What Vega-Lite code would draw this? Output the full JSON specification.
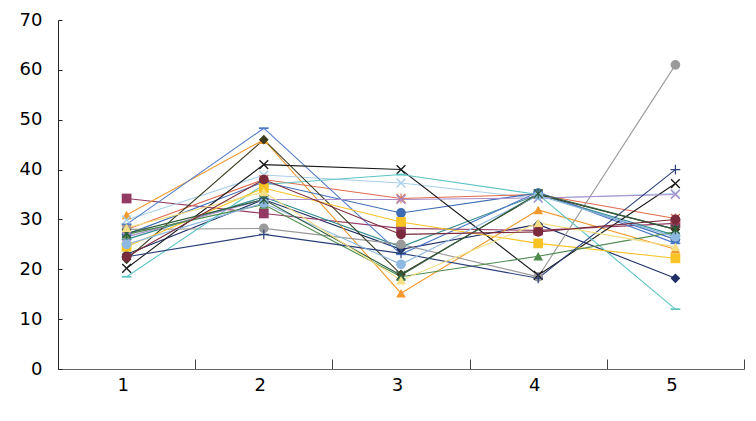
{
  "$schema": "https://vega.github.io/schema/vega-lite/v6.json",
  "autosize": {"type": "none"},
  "padding": {"left": 58, "top": 20, "right": 12, "bottom": 52},
  "width": 686,
  "height": 349,
  "background": "white",
  "config": {"view": {"stroke": null}, "font": "DejaVu Sans"},
  "data": {"values": [
    {"s":"S01","x":"1","v":23},{"s":"S01","x":"2","v":34},{"s":"S01","x":"3","v":24},{"s":"S01","x":"4","v":29},{"s":"S01","x":"5","v":18.2},
    {"s":"S02","x":"1","v":34.2},{"s":"S02","x":"2","v":31.2},{"s":"S02","x":"3","v":28.2},{"s":"S02","x":"4","v":27.8},{"s":"S02","x":"5","v":29.2},
    {"s":"S03","x":"1","v":30.9},{"s":"S03","x":"2","v":46},{"s":"S03","x":"3","v":15.2},{"s":"S03","x":"4","v":31.9},{"s":"S03","x":"5","v":24},
    {"s":"S04","x":"1","v":29.9},{"s":"S04","x":"2","v":38.9},{"s":"S04","x":"3","v":37.3},{"s":"S04","x":"4","v":34.2},{"s":"S04","x":"5","v":35.2},
    {"s":"S05","x":"1","v":28},{"s":"S05","x":"2","v":38},{"s":"S05","x":"3","v":34.2},{"s":"S05","x":"4","v":35},{"s":"S05","x":"5","v":30.2},
    {"s":"S06","x":"1","v":27},{"s":"S06","x":"2","v":37.5},{"s":"S06","x":"3","v":31.3},{"s":"S06","x":"4","v":35.3},{"s":"S06","x":"5","v":26},
    {"s":"S07","x":"1","v":26},{"s":"S07","x":"2","v":34.5},{"s":"S07","x":"3","v":24.5},{"s":"S07","x":"4","v":35},{"s":"S07","x":"5","v":26.8},
    {"s":"S08","x":"1","v":29},{"s":"S08","x":"2","v":48.3},{"s":"S08","x":"3","v":23},{"s":"S08","x":"4","v":35.5},{"s":"S08","x":"5","v":25.2},
    {"s":"S09","x":"1","v":28},{"s":"S09","x":"2","v":28.2},{"s":"S09","x":"3","v":25},{"s":"S09","x":"4","v":18.5},{"s":"S09","x":"5","v":61},
    {"s":"S10","x":"1","v":20.2},{"s":"S10","x":"2","v":41},{"s":"S10","x":"3","v":40},{"s":"S10","x":"4","v":18.8},{"s":"S10","x":"5","v":37.2},
    {"s":"S11","x":"1","v":18.5},{"s":"S11","x":"2","v":37},{"s":"S11","x":"3","v":39},{"s":"S11","x":"4","v":35},{"s":"S11","x":"5","v":12},
    {"s":"S12","x":"1","v":22},{"s":"S12","x":"2","v":46},{"s":"S12","x":"3","v":19},{"s":"S12","x":"4","v":35},{"s":"S12","x":"5","v":28},
    {"s":"S13","x":"1","v":24.5},{"s":"S13","x":"2","v":36.3},{"s":"S13","x":"3","v":29.5},{"s":"S13","x":"4","v":25.2},{"s":"S13","x":"5","v":22.2},
    {"s":"S14","x":"1","v":26.5},{"s":"S14","x":"2","v":34},{"s":"S14","x":"3","v":34},{"s":"S14","x":"4","v":34.3},{"s":"S14","x":"5","v":35},
    {"s":"S15","x":"1","v":27},{"s":"S15","x":"2","v":33},{"s":"S15","x":"3","v":18.5},{"s":"S15","x":"4","v":22.6},{"s":"S15","x":"5","v":27.5},
    {"s":"S16","x":"1","v":22.5},{"s":"S16","x":"2","v":27},{"s":"S16","x":"3","v":23.2},{"s":"S16","x":"4","v":18.2},{"s":"S16","x":"5","v":40},
    {"s":"S17","x":"1","v":25},{"s":"S17","x":"2","v":33.3},{"s":"S17","x":"3","v":21},{"s":"S17","x":"4","v":34.8},{"s":"S17","x":"5","v":26.5},
    {"s":"S18","x":"1","v":27.2},{"s":"S18","x":"2","v":34},{"s":"S18","x":"3","v":18.8},{"s":"S18","x":"4","v":35.2},{"s":"S18","x":"5","v":28},
    {"s":"S19","x":"1","v":28.3},{"s":"S19","x":"2","v":35.5},{"s":"S19","x":"3","v":17.8},{"s":"S19","x":"4","v":29.3},{"s":"S19","x":"5","v":24.5},
    {"s":"S20","x":"1","v":22.5},{"s":"S20","x":"2","v":38},{"s":"S20","x":"3","v":27},{"s":"S20","x":"4","v":27.5},{"s":"S20","x":"5","v":30}
  ]},
  "encoding": {
    "x": {"field": "x", "type": "ordinal", "bandPosition": 0.5,
      "scale": {"type": "band", "paddingInner": 0, "paddingOuter": 0},
      "axis": {"title": null, "labelAngle": 0, "tickBand": "extent", "tickSize": -10, "labelPadding": 17, "labelOffset": -4,
        "domainColor": "#666666", "tickColor": "#444444", "labelFontSize": 18, "labelColor": "#000000", "labelFont": "DejaVu Sans", "grid": false}},
    "y": {"field": "v", "type": "quantitative",
      "scale": {"domain": [0, 70], "nice": false, "zero": true},
      "axis": {"title": null, "values": [0,10,20,30,40,50,60,70], "tickSize": -4, "labelPadding": 20,
        "domainColor": "#222222", "tickColor": "#222222", "labelFontSize": 18, "labelColor": "#000000", "labelFont": "DejaVu Sans", "grid": false}},
    "color": {"field": "s", "type": "nominal", "legend": null,
      "scale": {
        "domain": ["S01","S02","S03","S04","S05","S06","S07","S08","S09","S10","S11","S12","S13","S14","S15","S16","S17","S18","S19","S20"],
        "range": ["#1F2F66","#933A63","#F29A2E","#A9CFEA","#E06B4D","#3E6DB5","#2F8C8C","#4F7BC8","#9A9A9A","#1A1A1A","#5EC5C3","#3B3B1F","#F7C325","#A98CCB","#4E8A4E","#2A3E78","#8DB8E0","#2F5E3F","#F3DE84","#7A2A3A"]}}
  },
  "layer": [
    {"mark": {"type": "line", "strokeWidth": 1.1}},
    {"mark": {"type": "point", "filled": true, "opacity": 1, "size": 95},
      "encoding": {"shape": {"field": "s", "type": "nominal", "legend": null,
        "scale": {
          "domain": ["S01","S02","S03","S04","S05","S06","S07","S08","S09","S10","S11","S12","S13","S14","S15","S16","S17","S18","S19","S20"],
          "range": [
            "diamond","square","triangle-up",
            "M-1,-0.8L-0.8,-1L0,-0.2L0.8,-1L1,-0.8L0.2,0L1,0.8L0.8,1L0,0.2L-0.8,1L-1,0.8L-0.2,0Z",
            "M-1,-0.8L-0.8,-1L-0.12,-0.32V-1H0.12V-0.32L0.8,-1L1,-0.8L0.2,0L1,0.8L0.8,1L0.12,0.32V1H-0.12V0.32L-0.8,1L-1,0.8L-0.2,0Z",
            "circle",
            "M-0.12,-1H0.12V-0.12H1V0.12H0.12V1H-0.12V0.12H-1V-0.12H-0.12Z",
            "M-1,-0.18H1V0.18H-1Z",
            "circle",
            "M-1,-0.8L-0.8,-1L0,-0.2L0.8,-1L1,-0.8L0.2,0L1,0.8L0.8,1L0,0.2L-0.8,1L-1,0.8L-0.2,0Z",
            "M-1,-0.18H1V0.18H-1Z",
            "diamond","square",
            "M-1,-0.8L-0.8,-1L0,-0.2L0.8,-1L1,-0.8L0.2,0L1,0.8L0.8,1L0,0.2L-0.8,1L-1,0.8L-0.2,0Z",
            "triangle-up",
            "M-0.12,-1H0.12V-0.12H1V0.12H0.12V1H-0.12V0.12H-1V-0.12H-0.12Z",
            "circle",
            "M-1,-0.8L-0.8,-1L-0.12,-0.32V-1H0.12V-0.32L0.8,-1L1,-0.8L0.2,0L1,0.8L0.8,1L0.12,0.32V1H-0.12V0.32L-0.8,1L-1,0.8L-0.2,0Z",
            "triangle-up","circle"
          ]}}}}
  ]
}
